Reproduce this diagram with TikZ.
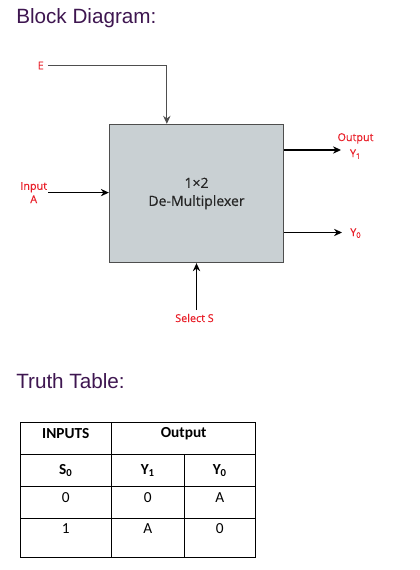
\documentclass[tikz,border=0pt]{standalone}
\usepackage{fontspec}
\setmainfont{Liberation Sans}
\newfontfamily\labelfont{Open Sans}[FakeBold=0.5]
\newfontfamily\tablefont{Carlito}
\usetikzlibrary{calc, arrows.meta}

\definecolor{headpurple}{RGB}{62,22,80}
\definecolor{labelred}{RGB}{232,30,40}
\definecolor{boxgrey}{RGB}{201,208,211}
\definecolor{edgegrey}{RGB}{78,78,78}

\begin{document}
\begin{tikzpicture}[x=0.75pt, y=-0.75pt,
		heading/.style={anchor=base west, inner sep=0pt, text=headpurple, font=\fontsize{15.5}{18}\selectfont},
		lbl/.style={inner sep=0pt, text=labelred, align=center, font=\labelfont\fontsize{8.1}{10}\selectfont},
		cell/.style={inner sep=0pt, font=\tablefont\fontsize{11.5}{13}\selectfont},
		headcell/.style={inner sep=0pt, font=\tablefont\bfseries\fontsize{11.5}{13}\selectfont},
		grid/.style={line width=0.75pt}]
		\useasboundingbox (0,0) rectangle (419,570);

		% block diagram
		\node[heading] (title) at (16,24) {Block Diagram:};

		\node[draw=edgegrey, fill=boxgrey, line width=1pt, minimum width=130.5pt, minimum height=103.5pt,
			align=center, font=\labelfont\fontsize{10.5}{13.5}\selectfont, text=black!85]
			(demux) at (196.5,193.5) {1×2\\De-Multiplexer};

		\node[lbl, anchor=east] (elbl) at (44,65.5) {E};
		\node[lbl] (inlbl) at (33.7,192.6) {Input\\A};
		\node[lbl] (y1lbl) at (355.5,146) {Output\\[2pt]Y\textsubscript{1}};
		\node[lbl, anchor=base west] (y0lbl) at (350,236) {Y\textsubscript{0}};
		\node[lbl, anchor=base] (sellbl) at (194.5,322) {Select S};

		\coordinate (etop) at ($(demux.north west)+(58,0)$);
		\coordinate (y1tip) at (341,150);
		\coordinate (y0tip) at (342,232.5);
		\coordinate (selfoot) at (196.5,310);

		\begin{scope}[-{Stealth[length=6pt, width=5.5pt]}, line width=0.8pt]
			\draw[edgegrey] ($(elbl.east)+(4,0)$) -| (etop);
			\draw ($(inlbl.east)+(1,0)$) -- (inlbl.east -| demux.west);
			\draw (y1tip -| demux.east) -- (y1tip);
			\draw (y0tip -| demux.east) -- (y0tip);
			\draw (selfoot) -- (demux.south);
		\end{scope}

		% truth table
		\node[heading] (ttitle) at (16,388) {Truth Table:};

		\draw[grid] (20,422.3) rectangle (255.7,557.3);
		\foreach \y in {454.3, 486, 518}
			\draw[grid] (20,\y) -- (255.7,\y);
		\draw[grid] (111.7,422.3) -- (111.7,557.3);
		\draw[grid] (184,454.3) -- (184,557.3);

		\node[headcell] (hin) at (65.8,433.3) {INPUTS};
		\node[headcell] (hout) at (183.7,433.3) {Output};
		\node[headcell] (hs) at (65.8,470.5) {S\textsubscript{0}};
		\node[headcell] (hy1) at (147.8,470.5) {Y\textsubscript{1}};
		\node[headcell] (hy0) at (219.8,470.5) {Y\textsubscript{0}};

		\foreach \s/\a/\b/\y in {0/0/A/498, 1/A/0/528.3} {
			\node[cell] (s\s) at (65.8,\y) {\s};
			\node[cell] (ya\s) at (147.8,\y) {\a};
			\node[cell] (yb\s) at (219.8,\y) {\b};
		}
	\end{tikzpicture}
\end{document}
